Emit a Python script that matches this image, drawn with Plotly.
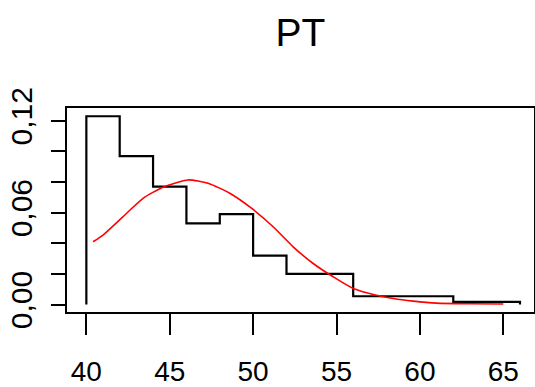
import plotly.graph_objects as go

# Histogram (step outline) data: bin edges and densities
bin_edges = [40, 42, 44, 46, 48, 50, 52, 54, 56, 58, 60, 62, 64, 66]
densities = [0.123, 0.097, 0.077, 0.053, 0.059, 0.032, 0.020, 0.020,
             0.0054, 0.0054, 0.0054, 0.0017, 0.0017]

# Fitted density curve
curve_x = [40.4, 41.0, 42.2, 43.4, 44.6, 46.1, 47.3, 48.6, 49.9, 51.2,
           52.4, 53.6, 54.8, 56.0, 57.4, 58.4, 59.6, 61.0, 63.0, 65.0]
curve_y = [0.041, 0.0454, 0.0574, 0.0694, 0.0766, 0.0814, 0.0792, 0.0727,
           0.0629, 0.0508, 0.0377, 0.0268, 0.0181, 0.0105, 0.0061, 0.0039,
           0.0022, 0.0009, 0.0005, 0.0003]

x_ticks = [40, 45, 50, 55, 60, 65]
y_ticks = [0.00, 0.02, 0.04, 0.06, 0.08, 0.10, 0.12]
y_ticktext = ["0,00", "", "", "0,06", "", "", "0,12"]

title_text = "PT"

FONT = "Liberation Sans, Arial, sans-serif"

step_x = [bin_edges[0]] + bin_edges
step_y = [0] + densities + [0]

fig = go.Figure()
fig.add_trace(go.Scatter(x=step_x, y=step_y, mode="lines",
                         line=dict(color="black", width=2.2, shape="hv"),
                         showlegend=False, hoverinfo="skip"))
fig.add_trace(go.Scatter(x=curve_x, y=curve_y, mode="lines",
                         line=dict(color="#ff0000", width=1.6, shape="spline", smoothing=0.6),
                         showlegend=False, hoverinfo="skip"))

fig.update_layout(
    width=535, height=387, autosize=False,
    margin=dict(l=67, r=1, t=108, b=75, pad=0),
    paper_bgcolor="white", plot_bgcolor="white",
    font=dict(family=FONT, color="black", size=28),
    title=dict(text=title_text, x=0.5, xref="paper", xanchor="center",
               y=1 - 32 / 387, yref="container", yanchor="middle",
               font=dict(family=FONT, size=39, color="black")),
    xaxis=dict(range=[38.84, 66.84], tickvals=x_ticks,
               ticktext=[str(v) for v in x_ticks], automargin=False,
               showgrid=False, zeroline=False,
               showline=True, linecolor="black", linewidth=2, mirror=True,
               ticks="outside", ticklen=21, tickwidth=2, tickcolor="black",
               ticklabelstandoff=12,
               tickfont=dict(family=FONT, size=28, color="black")),
    yaxis=dict(range=[-0.0049, 0.1284], tickvals=y_ticks, ticktext=y_ticktext,
               automargin=False,
               showgrid=False, zeroline=False,
               showline=True, linecolor="black", linewidth=2, mirror=True,
               ticks="outside", ticklen=14, tickwidth=2, tickcolor="black",
               tickangle=-90, ticklabelstandoff=7,
               tickfont=dict(family=FONT, size=30, color="black")),
)

# remove the default page margin so the figure sits at the window's top-left
fig.write_html("out.html", config={"displayModeBar": False},
               post_script="document.body.style.margin='0';")
